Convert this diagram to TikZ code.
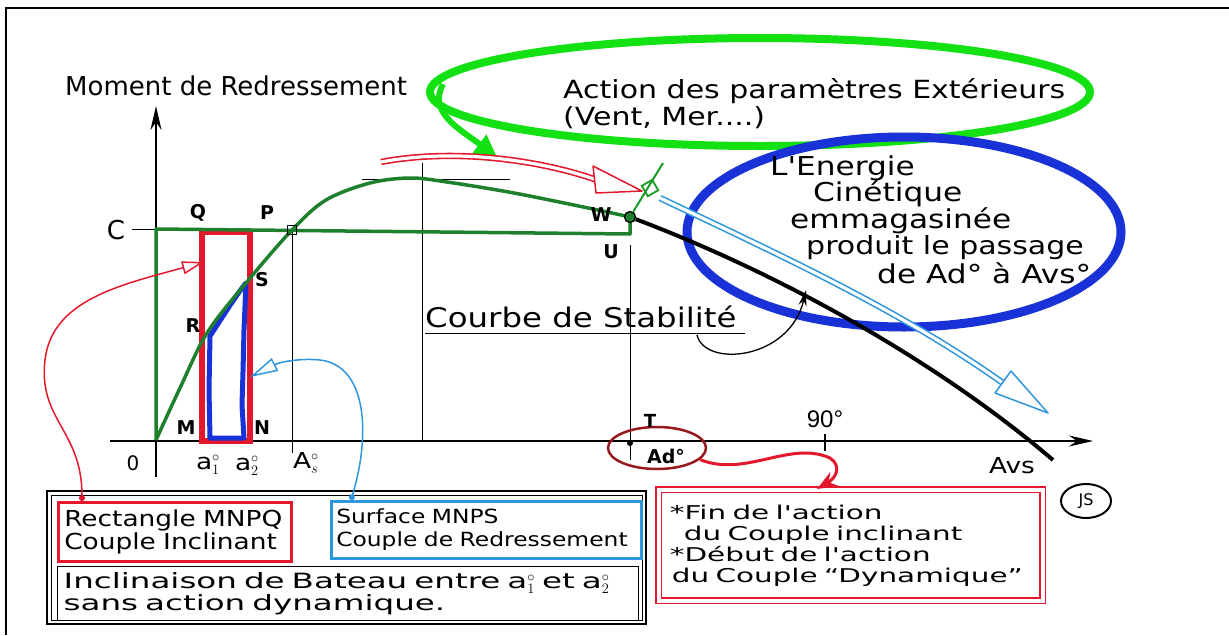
\documentclass[tikz,border=0pt]{standalone}
\usepackage{fontspec}
\setmainfont{DejaVu Sans}
\newfontfamily\handfont[FakeStretch=1.2]{DejaVu Sans}
\newfontfamily\handwide[FakeStretch=1.55]{DejaVu Sans}
\newfontfamily\arialfont{Liberation Sans}
\usetikzlibrary{arrows.meta,shapes.geometric}
\definecolor{dkgreen}{RGB}{30,128,45}
\definecolor{brgreen}{RGB}{20,225,20}
\definecolor{hred}{RGB}{228,24,44}
\definecolor{hblue}{RGB}{25,50,215}
\definecolor{hcyan}{RGB}{45,150,220}
\definecolor{dkred}{RGB}{150,25,30}
\begin{document}
\begin{tikzpicture}[x=1pt,y=-1pt,
  hA/.style={font=\handfont\fontsize{#1}{#1}\selectfont},
  pL/.style={font=\fontsize{#1}{#1}\selectfont},
  bL/.style={font=\fontsize{#1}{#1}\selectfont\bfseries},
  tx/.style={inner sep=0pt, anchor=base west},
  lb/.style={inner sep=0pt},
  guide/.style={line width=1pt},
  hollow/.style={line width=1.6pt, double=white, double distance=3.2pt},
]
\useasboundingbox (0,0) rectangle (1229,635);

% frame
\coordinate (f1) at (6,635); \coordinate (f2) at (6,8); \coordinate (f3) at (1229,8);
\draw[line width=2pt] (f1) -- (f2) -- (f3);

% big ellipses
\node[ellipse, draw=brgreen, line width=8pt, minimum width=660pt, minimum height=108pt, inner sep=0pt] (extell) at (760,92) {};
\node[ellipse, draw=hblue, line width=9pt, minimum width=434pt, minimum height=190pt, inner sep=0pt] (kinell) at (904,232) {};

% axes
\coordinate (ybot) at (156,477); \coordinate (ytop) at (156,106);
\coordinate (xl) at (110,441); \coordinate (xr) at (1093,441);
\draw[line width=1.6pt, -{Stealth[length=24pt,width=11pt]}] (ybot) -- (ytop);
\draw[line width=1.6pt, -{Stealth[length=24pt,width=11pt]}] (xl) -- (xr);

% guide lines
\draw[guide] (292,230) -- (292,453);
\draw[guide] (422,163) -- (422,441);
\draw[guide] (630,245) -- (630,460);
\draw[guide] (362,179) -- (510,179);
\draw[guide] (132,229) -- (156,229);
\draw[line width=2pt] (825,434) -- (825,451);

% red rectangle and blue surface
\draw[hred, line width=5.5pt] (202,232) rectangle (250,441);
\draw[hblue, line width=5pt, line join=round] (210,438) -- (209,390) -- (210,336) .. controls (222,318) and (234,298) .. (246,283) -- (244,330) -- (243,372) -- (242,405) -- (244,438) -- cycle;

% green stability construction
\draw[dkgreen, line width=3.5pt, line join=round] (156,440) -- (156,229) -- (630,234) -- (630,217);
\draw[dkgreen, line width=3.5pt] plot[smooth, tension=0.55] coordinates {(156,440) (180,388) (207,333) (246,283) (292,230) (326,200) (370,183) (410,178) (447,182) (514,193) (593,209) (630,217)};

\node[draw=black, line width=1.3pt, minimum size=9pt, inner sep=0pt] (pmark) at (292,230) {};
\node[circle, draw=black, fill=dkgreen, line width=1.3pt, minimum size=11pt, inner sep=0pt] (wpt) at (630,217) {};
\coordinate (cend) at (1053,460);
\draw[black, line width=4pt] (wpt) .. controls (770,270) and (930,355) .. (cend);
\coordinate (wtick) at (663,163);
\draw[dkgreen!70!brgreen, line width=2pt] (wpt) -- (wtick);
\node[draw=dkgreen!70!brgreen, rotate=30, minimum size=12pt, inner sep=0pt, line width=1.8pt] (wsq) at (650,188) {};

% green arrow from the external-action ellipse
\coordinate (gst) at (443,84); \coordinate (gtip) at (497,157);
\draw[brgreen, line width=6pt, -{Triangle[length=22pt,width=22pt]}] (gst) .. controls (428,112) and (458,128) .. (gtip);

% red hollow arrow (top)
\coordinate (rst) at (381,162); \coordinate (rhb) at (597,180); \coordinate (rtip) at (642,191);
\draw[hred, hollow] (rst) .. controls (455,148) and (540,160) .. (rhb);
\draw[hred, line width=1.5pt, fill=white, line join=round] (593,166) -- (rtip) -- (596,193) -- cycle;

% cyan hollow arrow
\coordinate (cst) at (660,198); \coordinate (cbase) at (1003,383); \coordinate (ctip) at (1048,413);
\draw[hcyan, hollow] (cst) .. controls (780,255) and (900,310) .. (cbase);
\draw[hcyan, line width=1.5pt, fill=white, line join=round] (995,393) -- (ctip) -- (1011,371) -- cycle;

% stability curve annotation
\node[tx, hA=27] (courbe) at (425,327) {Courbe de Stabilité};
\draw[guide] (425,333) -- (745,333);
\coordinate (cu) at (697,335); \coordinate (cuarrow) at (806,290);
\draw[line width=1.3pt, -{Stealth[length=16pt,width=8pt]}] (cu) .. controls (705,368) and (790,360) .. (cuarrow);

% titles
\node[tx, pL=26] (title) at (65,95) {Moment de Redressement};
\node[tx, hA=25] (ext1) at (563,98) {Action des paramètres Extérieurs};
\node[tx, hA=25] (ext2) at (563,125) {(Vent, Mer....)};

\node[tx, hA=26] (k1) at (770,175) {L'Energie};
\node[tx, hA=26] (k2) at (813,201) {Cinétique};
\node[tx, hA=26] (k3) at (790,228) {emmagasinée};
\node[tx, hA=25] (k4) at (806,254) {produit le passage};
\node[tx, hA=26] (k5) at (877,283) {de Ad° à Avs°};

% point labels
\node[lb, pL=26] (lC) at (116,230) {C};
\node[lb, bL=19] (lQ) at (198,213) {Q};
\node[lb, bL=19] (lP) at (267,213) {P};
\node[lb, bL=19] (lS) at (262,280) {S};
\node[lb, bL=19] (lR) at (193,326) {R};
\node[lb, bL=19] (lM) at (186,428) {M};
\node[lb, bL=19] (lN) at (262,428) {N};
\node[lb, pL=20] (lO) at (133,463) {0};
\node[lb, hA=22] (la1) at (208,465) {a$^{\circ}_{1}$};
\node[lb, hA=22] (la2) at (247,466) {a$^{\circ}_{2}$};
\node[lb, hA=22] (lAs) at (306,463) {A$^{\circ}_{s}$};
\node[lb, bL=19] (lW) at (601,215) {W};
\node[lb, bL=19] (lU) at (611,252) {U};

% Ad region
\node[ellipse, draw=dkred, line width=2.5pt, minimum width=98pt, minimum height=42pt, inner sep=0pt] (adell) at (657,448) {};
\node[circle, fill=black, minimum size=6pt, inner sep=0pt] (tdot) at (630,443) {};
\node[lb, bL=18] (lT) at (650,421) {T};
\node[lb, bL=19] (lAd) at (666,456) {Ad°};
\node[lb, font=\arialfont\fontsize{24}{24}\selectfont] (l90) at (825,419) {90°};
\node[lb, hA=22] (lAvs) at (1012,466) {Avs};
\node[ellipse, draw, line width=2pt, minimum width=50pt, minimum height=34pt, inner sep=0pt, pL=16] (js) at (1086,501) {JS};

% bottom-left panel
\draw[line width=1.3pt] (47,491) rectangle (646,624);
\draw[line width=0.8pt] (51,495) rectangle (642,620);
\node[draw=hred, line width=2.5pt, minimum width=233pt, minimum height=59pt, text width=221pt, align=left, inner sep=6pt, anchor=north west, font=\handfont\fontsize{22}{23}\selectfont] (rbox) at (57,501) {Rectangle MNPQ\\Couple Inclinant};
\node[draw=hcyan, line width=2.5pt, minimum width=310pt, minimum height=57pt, text width=300pt, align=left, inner sep=5pt, anchor=north west, font=\handfont\fontsize{19.5}{23}\selectfont] (bbox) at (330,500) {Surface MNPS\\Couple de Redressement};
\node[draw=black, line width=1.3pt, minimum width=581pt, minimum height=49pt, text width=569pt, align=left, inner sep=6pt, anchor=north west, font=\handwide\fontsize{21}{21.5}\selectfont] (ibox) at (57,566) {Inclinaison de Bateau entre a$^{\circ}_{1}$ et a$^{\circ}_{2}$\\sans action dynamique.};

% right red box
\node[draw=hred, double=white, double distance=3.5pt, line width=1.6pt, minimum width=384pt, minimum height=111pt, text width=374pt, align=left, inner sep=5pt, anchor=north west, font=\handwide\fontsize{19}{21}\selectfont] (fbox) at (658,489) {\mbox{\hspace*{6pt}{*}Fin de l'action}\\\mbox{\hspace*{20pt}du Couple inclinant}\\\mbox{\hspace*{6pt}{*}Début de l'action}\\\mbox{\hspace*{8pt}du Couple “Dynamique”}};

% connectors
\coordinate (rtarget) at (204,262);
\draw[hred, line width=1.5pt, {Circle[length=6pt]}-{Triangle[open, length=22pt, width=13pt]}] ([xshift=25pt]rbox.north west) .. controls (82,430) and (38,420) .. (45,360) .. controls (52,300) and (120,285) .. (rtarget);
\coordinate (btarget) at (250,377);
\draw[hcyan, line width=1.5pt, {Circle[length=6pt]}-{Triangle[open, length=28pt, width=14pt]}] ([xshift=21pt]bbox.north west) .. controls (372,430) and (365,365) .. (320,360) .. controls (300,358) and (280,362) .. (btarget);
\coordinate (fhead) at (817,489);
\draw[hred, line width=3pt, -{Stealth[length=20pt,width=16pt]}] (adell.-15) .. controls (745,478) and (790,440) .. (830,458) .. controls (842,466) and (836,478) .. (fhead);
\end{tikzpicture}
\end{document}
